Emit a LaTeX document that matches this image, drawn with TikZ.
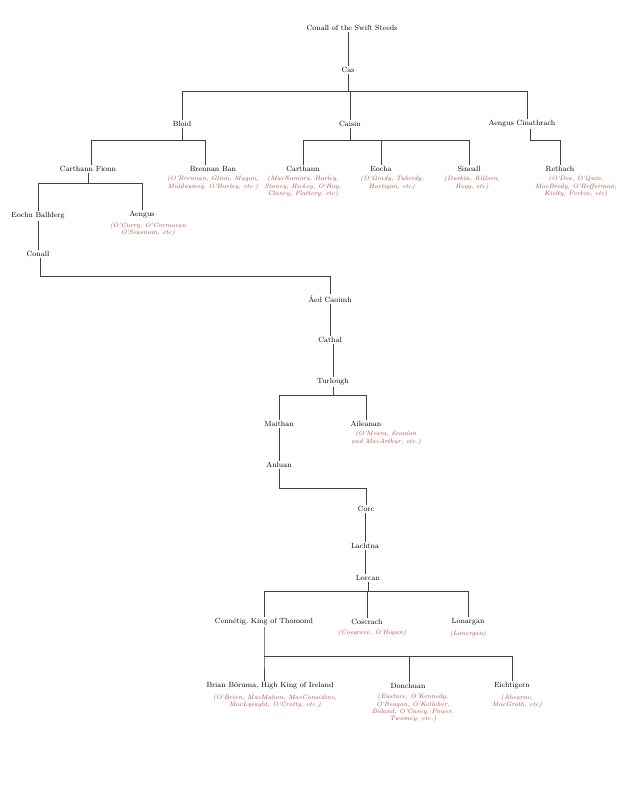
\documentclass[tikz,border=0pt]{standalone}
\usepackage{tikz}
\usetikzlibrary{positioning}
\definecolor{SeptRed}{rgb}{0.70,0.25,0.25}
\tikzset{
	person/.style={font=\fontsize{7.5}{8.5}\selectfont, inner sep=1pt},
	septs/.style={font=\fontsize{6.3}{7.3}\selectfont\itshape, text=SeptRed, align=center, inner sep=1pt},
	line/.style={draw=black!75, line width=0.6pt}
}

\begin{document}
\begin{tikzpicture}[x=1pt,y=-1pt]
\useasboundingbox (0,0) rectangle (640,805);
% generations
\node[person] (swift) at (352,28) {Conall of the Swift Steeds};
\node[person] (cas) at (348,70) {Cas};
\node[person] (bloid) at (182,124) {Bloid};
\node[person] (caisin) at (350,124) {Caisin};
\node[person] (cinath) at (522,124) {Aengus Cinathrach};
\node[person] (cfionn) at (88,169) {Carthann Fionn};
\node[person] (brennan) at (213,169) {Brennan Ban};
\node[septs,below=2pt of brennan] {(O'Brennan, Glinn, Magan,\\Muldowney, O'Hurley, etc.)};
\node[person] (carthann) at (303,169) {Carthann};
\node[septs,below=2pt of carthann] {(MacNamara, Harley,\\Stoney, Hickey, O'Hay,\\Clancy, Flattery, etc)};
\node[person] (eocha) at (381,169) {Eocha};
\node[septs,below=2pt of eocha,xshift=11pt] {(O'Grady, Tubridy,\\Hartigan, etc)};
\node[person] (sineall) at (469,169) {Sineall};
\node[septs,below=2pt of sineall,xshift=3pt] {(Durkin, Killeen,\\Hogg, etc)};
\node[person] (rethach) at (560,169) {Rethach};
\node[septs,below=2pt of rethach,xshift=16pt] {(O'Dea, O'Quin,\\MacBrody, O'Hefferman,\\Kielty, Perkin, etc)};
\node[person] (eochu) at (38,216) {Eochu Ballderg};
\node[person] (aengus) at (142,215) {Aengus};
\node[septs,below=2pt of aengus,xshift=6pt] {(O'Curry, O'Cormacan\\O'Seasnain, etc)};
\node[person] (conall) at (38,254) {Conall};
\node[person] (aed) at (330,299) {Áed Caoimh};
\node[person] (cathal) at (330,340) {Cathal};
\node[person] (turlough) at (333,382) {Turlough};
\node[person] (maithan) at (279,424) {Maithan};
\node[person] (aileanan) at (366,424) {Aileanan};
\node[septs,below=2pt of aileanan,xshift=20pt] {(O'Meara, Scanlan\\and MacArthur, etc.)};
\node[person] (anluan) at (279,465) {Anluan};
\node[person] (corc) at (366,509) {Corc};
\node[person] (lachtna) at (365,546) {Lachtna};
\node[person] (lorcan) at (368,578) {Lorcan};
\node[person] (cennetig) at (264,622) {Cennétig, King of Thomond};
\node[person] (coscrach) at (367,622) {Coscrach};
\node[septs,below=3pt of coscrach,xshift=5pt] {(Cosgrave, O'Hogan)};
\node[person] (lonargan) at (468,622) {Lonargan};
\node[septs,below=3pt of lonargan] {(Lonergan)};
\node[person] (brian) at (270,686) {Brian Bóruma, High King of Ireland};
\node[septs,below=3pt of brian,xshift=5pt] {(O'Brien, MacMahon, MacConsidine,\\MacLysaght, O'Crotty, etc.)};
\node[person] (donchuan) at (408,686) {Donchuan};
\node[septs,below=3pt of donchuan,xshift=5pt] {(Eustace, O'Kennedy,\\O'Reagan, O'Kelleher,\\Boland, O'Casey, Power,\\Twomey, etc.)};
\node[person] (eichtigern) at (512,686) {Eichtigern};
\node[septs,below=3pt of eichtigern,xshift=5pt] {(Ahearne,\\MacGrath, etc)};
% descent lines
\draw[line] (swift.south -| cas) -- (cas);
\draw[line] (cas.south) -- ++(0,17) coordinate (cas-j) -| (bloid.north);
\draw[line] (cas-j) -| (caisin.north);
\draw[line] (cas-j) -| ([xshift=5pt]cinath.north);
\draw[line] (bloid.south) -- ++(0,12) coordinate (bloid-j) -| ([xshift=3pt]cfionn.north);
\draw[line] (bloid-j) -| ([xshift=-8pt]brennan.north);
\draw[line] (caisin.south) -- ++(0,12) coordinate (caisin-j) -| (carthann.north);
\draw[line] (caisin-j) -| (eocha.north);
\draw[line] (caisin-j) -| (sineall.north);
\draw[line] ([xshift=8pt]cinath.south) -- ++(0,12) -| (rethach.north);
\draw[line] (cfionn.south) -- ++(0,10) coordinate (cfionn-j) -| (eochu.north);
\draw[line] (cfionn-j) -| (aengus.north);
\draw[line] (eochu) -- (conall);
\draw[line] ([xshift=2pt]conall.south) -- ++(0,18) -| (aed.north);
\draw[line] (aed) -- (cathal);
\draw[line] (cathal.south -| turlough) -- (turlough.north);
\draw[line] (turlough.south) -- ++(0,9) coordinate (turlough-j) -| (maithan.north);
\draw[line] (turlough-j) -| (aileanan.north);
\draw[line] (maithan) -- (anluan);
\draw[line] (anluan.south) -- ++(0,19) -| (corc.north);
\draw[line] (corc.south -| lachtna) -- (lachtna.north);
\draw[line] (lachtna.south) -- (lachtna.south |- lorcan.north);
\draw[line] (lorcan.south) -- ++(0,9) coordinate (lorcan-j) -| (cennetig.north);
\draw[line] (lorcan-j) -| (coscrach.north);
\draw[line] (lorcan-j) -| (lonargan.north);
\draw[line] (cennetig.south) -- ++(0,30) coordinate (cennetig-j) -- ([xshift=-6pt]brian.north);
\draw[line] (cennetig-j) -| ([xshift=1pt]donchuan.north);
\draw[line] (cennetig-j) -| (eichtigern.north);
\end{tikzpicture}
\end{document}
